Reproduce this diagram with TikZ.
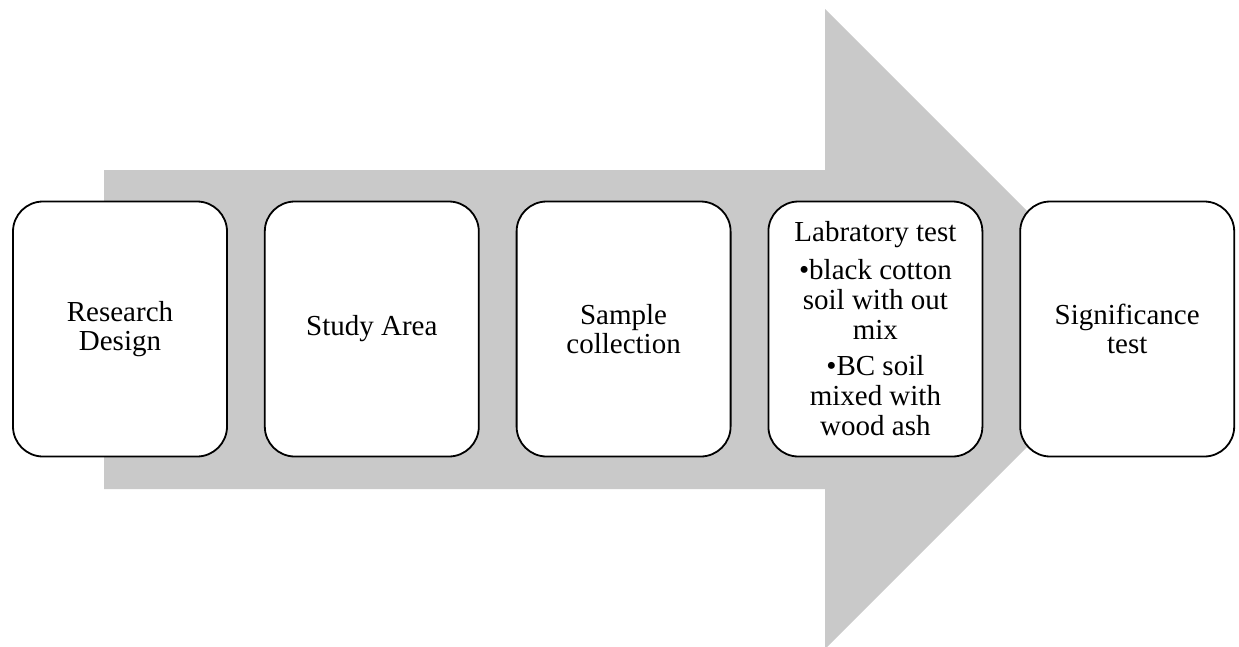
\documentclass[tikz,border=0pt]{standalone}
\usepackage{fontspec}
\setmainfont{Liberation Serif}
\usetikzlibrary{positioning}

\definecolor{arrowgray}{RGB}{201,201,201}

\begin{document}
\begin{tikzpicture}[x=1pt, y=1pt, font=\fontsize{29}{29}\selectfont, node distance=36pt, every node/.style={align=center}, stage/.style={draw, line width=1.8pt, rounded corners=30pt, fill=white, minimum width=214pt, minimum height=255pt, inner sep=2pt}]
\useasboundingbox (0,0) rectangle (1239,-646);
% big background arrow
\fill[arrowgray] (104,-170) -- (825,-170) -- (825,-9) -- (1145,-329) -- (825,-649) -- (825,-489) -- (104,-489) -- cycle;
% process stages
\node[stage] (design) at (120,-329) {Research\\Design};
\node[stage, right=of design] (area) {Study Area};
\node[stage, right=of area] (sample) {Sample\\collection};
\node[stage, right=of sample, font=\fontsize{29}{30}\selectfont] (lab) {Labratory test\\[8pt]\textbullet black cotton\\soil with out\\mix\\[6pt]\textbullet BC soil\\mixed with\\wood ash};
\node[stage, right=of lab] (signif) {Significance\\test};
\end{tikzpicture}
\end{document}
